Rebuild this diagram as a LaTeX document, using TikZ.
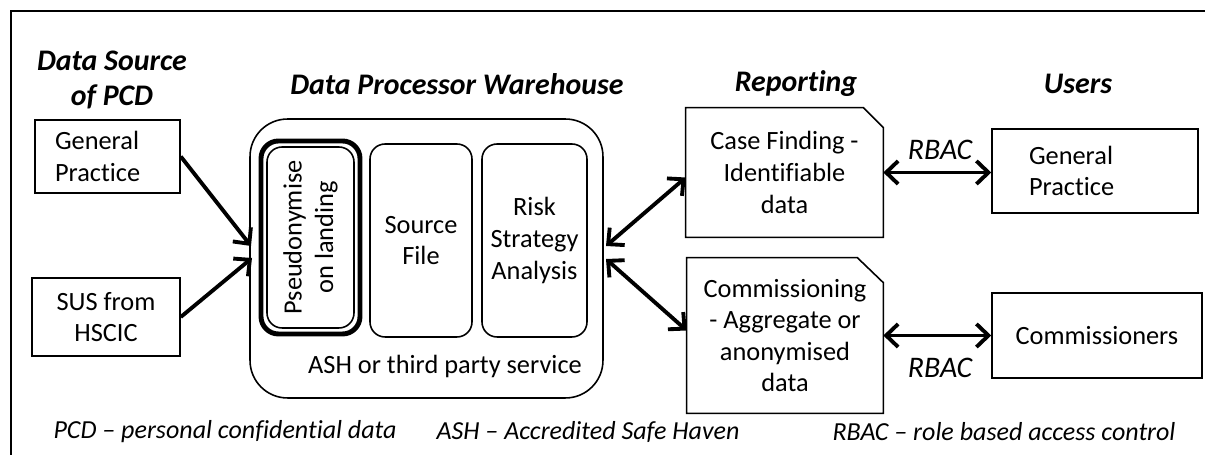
\documentclass[tikz,border=0pt]{standalone}
\usepackage{fontspec}
\setmainfont[Ligatures=NoCommon]{Carlito}
\usetikzlibrary{arrows.meta}

\begin{document}
\begin{tikzpicture}[x=0.02cm,y=-0.02cm,
  box/.style={draw,line width=0.9pt,fill=white,inner sep=0pt,align=center,font=\fontsize{15}{18}\selectfont},
  wbox/.style={box,rounded corners=0.3cm},
  title/.style={align=center,font=\fontsize{17}{20}\selectfont\bfseries\itshape},
  note/.style={font=\fontsize{14.8}{17}\selectfont\itshape},
  feed/.style={line width=2.2pt,-{Straight Barb[length=2.4mm,width=4.6mm]}},
  link/.style={line width=2.2pt,{Straight Barb[length=2.4mm,width=4.6mm]}-{Straight Barb[length=2.4mm,width=4.6mm]}}]
\useasboundingbox (0,0) rectangle (1205,455);
\draw[line width=0.9pt] (11,11) rectangle (1230,480);
% column titles
\node[title] (tsrc) at (112,80) {Data Source\\of PCD};
\node[title] (twh) at (457,84) {Data Processor Warehouse};
\node[title] (trep) at (796,84) {Reporting};
\node[title] (tusr) at (1078,84) {Users};
% sources
\node[box,align=left,text width=2.1cm,inner xsep=0.4cm,minimum height=1.46cm] (srcgp) at (107.5,156.5) {General\\Practice};
\node[box,minimum width=2.96cm,minimum height=1.56cm] (sus) at (106,317) {SUS from\\HSCIC};
% warehouse
\node[draw,line width=0.9pt,rounded corners=0.75cm,minimum width=7.06cm,minimum height=5.58cm] (wh) at (426.5,258.5) {};
\node[wbox,rotate=90,minimum width=3.62cm,minimum height=1.74cm] (pseudo) at (310.5,237.5) {Pseudonymise\\on landing};
\draw[line width=2.8pt,rounded corners=0.35cm] (261,141) rectangle (360,334);
\node[wbox,minimum width=2.04cm,minimum height=3.86cm] (srcfile) at (421,240.5) {Source\\File};
\node[wbox,minimum width=2.1cm,minimum height=3.86cm] (risk) at (534.5,240.5) {Risk\\Strategy\\Analysis};
\node[font=\fontsize{15}{18}\selectfont] (ash) at (445,366) {ASH or third party service};
% reporting
\node[minimum width=3.94cm,minimum height=2.58cm,inner sep=0pt,align=center,font=\fontsize{15}{18}\selectfont] (cf) at (784.5,172.5) {Case Finding -\\Identifiable\\data};
\draw[line width=0.9pt] (cf.north west) -- ([xshift=-0.4cm]cf.north east) -- ([yshift=-0.4cm]cf.north east) -- (cf.south east) -- (cf.south west) -- cycle;
\node[minimum width=3.92cm,minimum height=3.1cm,inner sep=0pt,align=center,font=\fontsize{15}{18}\selectfont] (com) at (785,335.5) {Commissioning\\- Aggregate or\\anonymised\\data};
\draw[line width=0.9pt] (com.north west) -- ([xshift=-0.52cm]com.north east) -- ([yshift=-0.5cm]com.north east) -- (com.south east) -- (com.south west) -- cycle;
% users
\node[box,align=left,text width=2.64cm,inner xsep=0.74cm,minimum height=1.68cm] (ugp) at (1095,171) {General\\Practice};
\node[box,minimum width=4.2cm,minimum height=1.7cm] (coms) at (1097,335.5) {Commissioners};
% connectors
\coordinate (in1) at (251,246);
\coordinate (in2) at (252,258);
\coordinate (out1) at (606,246);
\coordinate (out2) at (606,259);
\draw[feed] (srcgp.east) -- (in1);
\draw[feed] (sus.east) -- (in2);
\draw[link] (out1) -- ([yshift=-0.1cm]cf.west);
\draw[link] (out2) -- ([yshift=0.1cm]com.west);
\draw[link] (cf.east) -- (cf.east -| ugp.west);
\draw[link] (com.east) -- (com.east -| coms.west);
\node[note,font=\fontsize{17}{20}\selectfont\itshape] (rbac1) at (940,150) {RBAC};
\node[note,font=\fontsize{17}{20}\selectfont\itshape] (rbac2) at (940,368) {RBAC};
% key
\node[note] (kpcd) at (225,432) {PCD – personal confidential data};
\node[note] (kash) at (588,432) {ASH – Accredited Safe Haven};
\node[note] (krbac) at (1004,432) {RBAC – role based access control};
\end{tikzpicture}
\end{document}
